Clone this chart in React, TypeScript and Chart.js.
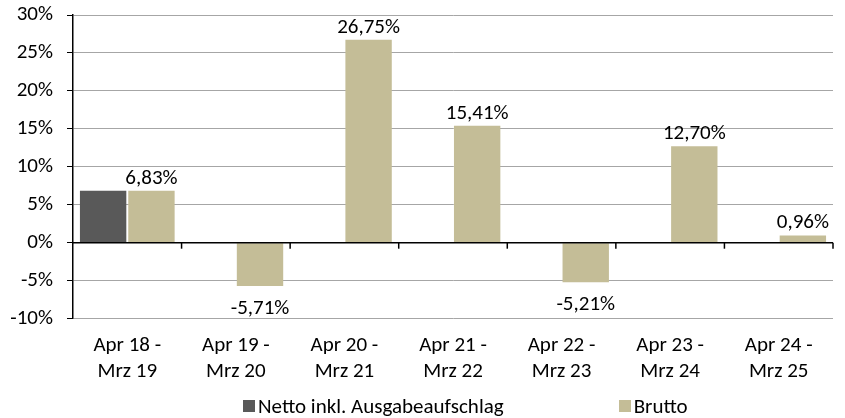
import React, { useEffect, useRef } from 'react';
import { Chart, registerables } from 'chart.js';

Chart.register(...registerables);

const categories: string[][] = [
  ['Apr 18 -', 'Mrz 19'],
  ['Apr 19 -', 'Mrz 20'],
  ['Apr 20 -', 'Mrz 21'],
  ['Apr 21 -', 'Mrz 22'],
  ['Apr 22 -', 'Mrz 23'],
  ['Apr 23 -', 'Mrz 24'],
  ['Apr 24 -', 'Mrz 25'],
];
const nettoValues: (number | null)[] = [6.83, null, null, null, null, null, null];
const bruttoValues: number[] = [6.83, -5.71, 26.75, 15.41, -5.21, 12.7, 0.96];
const seriesNames = ['Netto inkl. Ausgabeaufschlag', 'Brutto'];
const seriesColors = ['#595959', '#c4bd97'];
const yMin = -10;
const yMax = 30;
const yStep = 5;

const FONT = 'Carlito, Lato, sans-serif';
const FSIZE = 21;

const fmt = (v: number) => v.toFixed(2).replace('.', ',') + '%';

const labelPlugin = {
  id: 'barLabels',
  afterDatasetsDraw(chart: any) {
    const ctx = chart.ctx;
    const xs = chart.scales.x;
    const ys = chart.scales.y;
    const y0 = ys.getPixelForValue(0);
    ctx.save();
    // zero axis line with tick marks
    ctx.strokeStyle = '#000';
    ctx.lineWidth = 1.5;
    ctx.beginPath();
    ctx.moveTo(xs.left, y0);
    ctx.lineTo(xs.right, y0);
    ctx.stroke();
    const n = categories.length;
    for (let i = 1; i <= n; i++) {
      const x = xs.left + (xs.width * i) / n;
      ctx.beginPath();
      ctx.moveTo(x, y0);
      ctx.lineTo(x, y0 + 6);
      ctx.stroke();
    }
    // value labels
    const meta = chart.getDatasetMeta(1);
    ctx.font = `${FSIZE}px ${FONT}`;
    ctx.fillStyle = '#000';
    ctx.textAlign = 'center';
    ctx.textBaseline = 'alphabetic';
    meta.data.forEach((bar: any, i: number) => {
      const v = bruttoValues[i];
      const y = v >= 0 ? bar.y - 7 : bar.y + 28;
      ctx.fillText(fmt(v), bar.x, y);
    });
    ctx.restore();
  },
};

export default function App() {
  const canvasRef = useRef<HTMLCanvasElement | null>(null);

  useEffect(() => {
    document.body.style.margin = '0';
    const canvas = canvasRef.current;
    if (!canvas) return;
    const chart = new Chart(canvas, {
      type: 'bar',
      data: {
        labels: categories,
        datasets: [
          {
            label: seriesNames[0],
            data: nettoValues,
            backgroundColor: seriesColors[0],
            categoryPercentage: 0.89,
            barPercentage: 0.96,
          },
          {
            label: seriesNames[1],
            data: bruttoValues,
            backgroundColor: seriesColors[1],
            categoryPercentage: 0.89,
            barPercentage: 0.96,
          },
        ],
      },
      options: {
        animation: false,
        responsive: false,
        maintainAspectRatio: false,
        layout: { padding: { left: 0, right: 12, top: 15, bottom: 19 } },
        plugins: {
          legend: { display: false },
          tooltip: { enabled: false },
        },
        scales: {
          x: {
            grid: { display: false, drawTicks: false },
            border: { display: false },
            ticks: {
              color: '#000',
              font: { family: FONT, size: FSIZE, lineHeight: 1.2 },
              padding: 15,
              maxRotation: 0,
              autoSkip: false,
            },
          },
          y: {
            min: yMin,
            max: yMax,
            afterFit: (scale: any) => {
              scale.width = 73;
              scale.paddingTop = 0;
              scale.paddingBottom = 0;
            },
            grid: {
              color: (c: any) => (c.tick && c.tick.value === 0 ? '#000' : '#a6a6a6'),
              tickColor: '#000',
              tickLength: 6,
              lineWidth: 1,
            },
            border: { color: '#000', width: 1.5 },
            ticks: {
              stepSize: yStep,
              color: '#000',
              padding: 14,
              font: { family: FONT, size: FSIZE },
              callback: (v: any) => `${v}%`,
            },
          },
        },
      },
      plugins: [labelPlugin],
    });
    return () => chart.destroy();
  }, []);

  return (
    <div style={{ position: 'relative', width: 845, height: 418, fontFamily: FONT }}>
      <canvas ref={canvasRef} width={845} height={418} style={{ position: 'absolute', left: 0, top: 0 }} />
      <div
        style={{
          position: 'absolute',
          left: 243,
          top: 394,
          display: 'flex',
          gap: 115,
          fontSize: FSIZE,
          color: '#000',
          lineHeight: '24px',
          whiteSpace: 'nowrap',
        }}
      >
        {seriesNames.map((name, i) => (
          <div key={name} style={{ display: 'flex', alignItems: 'center' }}>
            <span style={{ display: 'inline-block', width: 12, height: 12, background: seriesColors[i], marginRight: 3 }} />
            <span>{name}</span>
          </div>
        ))}
      </div>
    </div>
  );
}
